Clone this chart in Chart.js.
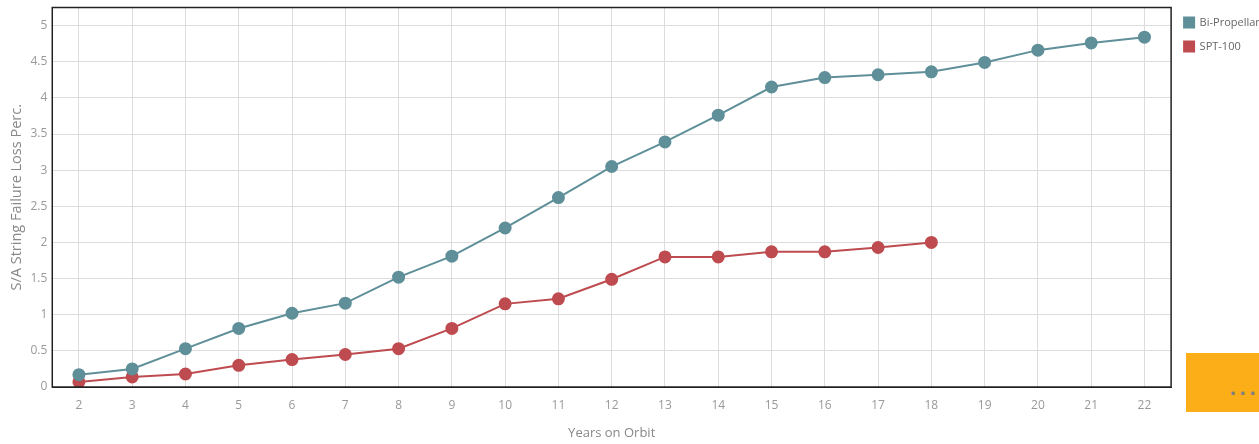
<!DOCTYPE html>
<html>
<head>
<meta charset="utf-8">
<script src="https://cdn.jsdelivr.net/npm/chart.js@4/dist/chart.umd.min.js"></script>
<style>
  html, body { margin: 0; padding: 0; background: #fff; overflow: hidden; }
  #wrap { position: relative; width: 1259px; height: 444px; overflow: hidden; }
  #more {
    position: absolute; left: 1186px; top: 353px; width: 73px; height: 59px;
    background: #fbae17; color: #808080; font: bold 18px "DejaVu Sans", sans-serif;
    text-align: right; line-height: 72px; letter-spacing: 3px; overflow: hidden;
  }
</style>
</head>
<body>
<div id="wrap">
  <canvas id="chart" width="1276" height="444"></canvas>
  <div id="more">...</div>
</div>
<script>
// categories
const years = ['2','3','4','5','6','7','8','9','10','11','12','13','14','15','16','17','18','19','20','21','22'];

// series values
const biPropellant = [0.17, 0.25, 0.53, 0.81, 1.02, 1.16, 1.52, 1.81, 2.20, 2.62, 3.05, 3.39, 3.76, 4.15, 4.28, 4.32, 4.36, 4.49, 4.66, 4.76, 4.84];
const spt100 = [0.07, 0.14, 0.18, 0.30, 0.38, 0.45, 0.53, 0.81, 1.15, 1.22, 1.49, 1.80, 1.80, 1.87, 1.87, 1.93, 2.00];

const tealColor = '#5f8f99';
const redColor = '#be4b4f';

// dark frame around the plot area
const frame = {
    id: 'frame',
    afterDraw(chart) {
        const {ctx, chartArea} = chart;
        ctx.save();
        ctx.strokeStyle = '#222';
        ctx.lineWidth = 1.5;
        ctx.strokeRect(chartArea.left, chartArea.top, chartArea.right - chartArea.left, chartArea.bottom - chartArea.top);
        ctx.restore();
    }
};

const font = '"Open Sans", sans-serif';

new Chart(document.querySelector('#chart').getContext('2d'), {
    type: 'line',
    data: {
        labels: years,
        datasets: [{
            label: 'Bi-Propellant',
            data: biPropellant,
            borderColor: tealColor,
            backgroundColor: tealColor,
            borderWidth: 2,
            pointRadius: 5.5,
            pointHoverRadius: 5.5,
            tension: 0
        }, {
            label: 'SPT-100',
            data: spt100,
            borderColor: redColor,
            backgroundColor: redColor,
            borderWidth: 2,
            pointRadius: 5.5,
            pointHoverRadius: 5.5,
            tension: 0
        }]
    },
    options: {
        responsive: false,
        animation: false,
        layout: { padding: { top: 4, right: 0, left: 4, bottom: 0 } },
        plugins: {
            legend: {
                position: 'right',
                align: 'start',
                labels: {
                    boxWidth: 10,
                    boxHeight: 10,
                    padding: 13,
                    color: '#666',
                    font: { family: font, size: 11 }
                }
            },
            tooltip: { enabled: false }
        },
        scales: {
            x: {
                offset: true,
                grid: { color: '#dcdcdc', offset: false, drawTicks: false },
                border: { color: '#222' },
                ticks: { color: '#999', font: { family: font, size: 12 }, padding: 11 },
                title: { display: true, text: 'Years on Orbit', color: '#888', font: { family: font, size: 13 }, padding: { top: 2, bottom: 3 } }
            },
            y: {
                min: 0,
                max: 5.25,
                afterFit: scale => { scale.paddingTop = 0; },
                grid: { color: '#dcdcdc', drawTicks: false },
                border: { color: '#222' },
                ticks: {
                    stepSize: 0.5,
                    includeBounds: false,
                    color: '#999',
                    font: { family: font, size: 12 },
                    padding: 5,
                    callback: value => String(value)
                },
                title: { display: true, text: 'S/A String Failure Loss Perc.', color: '#888', font: { family: font, size: 14.5 }, padding: { top: 4, bottom: 0 } }
            }
        }
    },
    plugins: [frame]
});
</script>
</body>
</html>
